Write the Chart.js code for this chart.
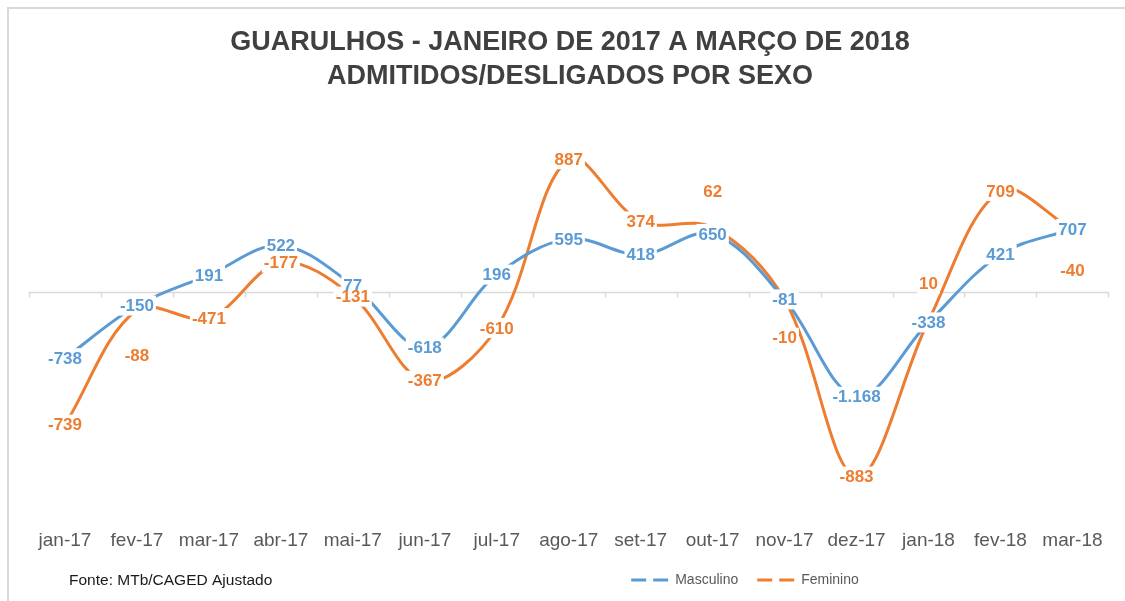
<!DOCTYPE html>
<html><head><meta charset="utf-8">
<script src="https://cdn.jsdelivr.net/npm/chart.js@4"></script>
<style>html,body{margin:0;padding:0;background:#fff}#wrap{width:1125px;height:601px}</style>
</head><body><div id="wrap"><canvas id="c" width="1125" height="601"></canvas></div>
<script>
// ---- data ----
const categories = ['jan-17','fev-17','mar-17','abr-17','mai-17','jun-17','jul-17','ago-17','set-17','out-17','nov-17','dez-17','jan-18','fev-18','mar-18'];
const seriesNames = ['Masculino','Feminino'];
const masculino = [-738,-150,191,522,77,-618,196,595,418,650,-81,-1168,-338,421,707];
const femininoPlot = [-1480,-200,-290,330,-50,-990,-400,1485,790,720,-85,-2060,-320,1130,700];
// Feminino data labels as printed
const femininoLabels = [-739,-88,-471,-177,-131,-367,-610,887,374,62,-10,-883,10,709,-40];
const titleLines = ['GUARULHOS - JANEIRO DE 2017 A MARÇO DE 2018','ADMITIDOS/DESLIGADOS POR SEXO'];
const sourceNote = 'Fonte: MTb/CAGED Ajustado';

// ---- styling ----
const FAMILY = "'Liberation Sans', Arial, sans-serif";
const BLUE = '#5B9BD5', ORANGE = '#ED7D31';
const femLabelShift = [0,45,0,0,0,0,0,0,0,-36,38,0,-37,0,41];

function fmt(v){
  const s = Math.abs(v).toString().replace(/\B(?=(\d{3})+(?!\d))/g,'.');
  return (v<0?'-':'') + s;
}

const framePlugin = {
  id:'frame',
  beforeDraw(chart){
    const c = chart.ctx;
    c.save();
    c.fillStyle='#fff'; c.fillRect(0,0,chart.width,chart.height);
    c.strokeStyle='#d9d9d9'; c.lineWidth=2;
    c.strokeRect(8,8,chart.width+20,chart.height+20);
    c.restore();
  },
  afterLayout(chart){
    const L = chart.legend; L.left += 175; L.right += 175;
  },
  beforeDatasetsDraw(chart){
    const c = chart.ctx, xs = chart.scales.x, ys = chart.scales.y;
    const y0 = Math.round(ys.getPixelForValue(0)) + 0.5;
    c.save();
    c.strokeStyle='#d9d9d9'; c.lineWidth=1.5;
    c.beginPath();
    c.moveTo(chart.chartArea.left, y0); c.lineTo(chart.chartArea.right, y0);
    for(let i=0;i<=categories.length;i++){
      const x = Math.round(xs.getPixelForValue(i-0.5))+0.5;
      c.moveTo(x,y0); c.lineTo(x,y0+5);
    }
    c.stroke();
    c.restore();
  },
  afterDatasetsDraw(chart){
    const c = chart.ctx;
    const sets = [
      {meta:chart.getDatasetMeta(0), labels:masculino.map(fmt), color:BLUE, shift:masculino.map(()=>0)},
      {meta:chart.getDatasetMeta(1), labels:femininoLabels.map(fmt), color:ORANGE, shift:femLabelShift}
    ];
    c.save();
    c.font = 'bold 17px ' + FAMILY;
    c.textAlign='center'; c.textBaseline='middle';
    const items=[];
    sets.forEach(s=>{
      s.meta.data.forEach((pt,j)=>{
        items.push({x:pt.x, y:pt.y + s.shift[j], t:s.labels[j], col:s.color});
      });
    });
    items.forEach(it=>{
      const w = c.measureText(it.t).width + 4;
      c.fillStyle='#fff';
      c.fillRect(it.x-w/2, it.y-10, w, 20);
    });
    items.forEach(it=>{ c.fillStyle=it.col; c.fillText(it.t, it.x, it.y+1); });
    c.restore();
  },
  afterDraw(chart){
    const c = chart.ctx;
    c.save();
    c.font = '15.5px ' + FAMILY;
    c.fillStyle='#1a1a1a'; c.textAlign='left'; c.textBaseline='middle';
    c.fillText(sourceNote, 69, 581);
    c.restore();
  }
};

new Chart(document.getElementById('c'), {
  type:'line',
  data:{
    labels:categories,
    datasets:[
      {label:seriesNames[0], data:masculino, borderColor:BLUE, backgroundColor:BLUE, borderWidth:3, pointRadius:0, tension:0.35, fill:false, borderCapStyle:'round'},
      {label:seriesNames[1], data:femininoPlot, borderColor:ORANGE, backgroundColor:ORANGE, borderWidth:3, pointRadius:0, tension:0.35, fill:false, borderCapStyle:'round'}
    ]
  },
  options:{
    responsive:false, animation:false, devicePixelRatio:1,
    layout:{padding:{left:29,right:14,top:0,bottom:4}},
    scales:{
      x:{offset:true, grid:{display:false, drawTicks:false}, border:{display:false},
         ticks:{color:'#595959', font:{family:FAMILY, size:19}, padding:22, maxRotation:0, autoSkip:false},
         afterFit(s){ s.height = 47; }},
      y:{display:false, min:-2400, max:1800}
    },
    plugins:{
      title:{display:true, text:titleLines, color:'#404040',
             font:{family:FAMILY, size:27, weight:'bold', lineHeight:34/27}, padding:{top:26, bottom:37}},
      legend:{position:'bottom',
        labels:{usePointStyle:true, pointStyleWidth:37, padding:19, color:'#595959', font:{family:FAMILY, size:14},
          generateLabels(chart){
            const items = Chart.defaults.plugins.legend.labels.generateLabels(chart);
            items.forEach(it=>{ it.pointStyle='line'; it.lineDash=[15,7]; it.lineWidth=3; });
            return items;
          }}},
      tooltip:{enabled:false}
    }
  },
  plugins:[framePlugin]
});
</script></body></html>
